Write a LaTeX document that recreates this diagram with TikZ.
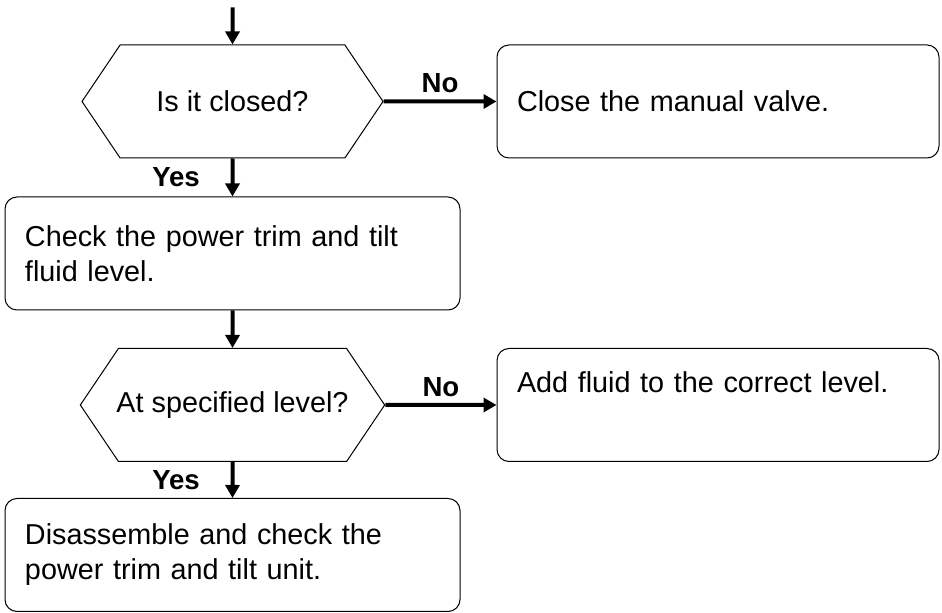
\documentclass[tikz,border=0pt]{standalone}
\usepackage{fontspec}
\setmainfont{Liberation Sans}
\usepackage{tikz}
\usetikzlibrary{positioning,shapes,shapes.symbols,arrows.meta}
\newcommand{\txtsize}{\fontsize{14.4pt}{17.5pt}\selectfont}
\tikzstyle{dec}=[draw, line width=0.5pt, shape=signal, signal to=east and west, signal pointer angle=112, minimum width=150.5pt, minimum height=56.5pt, inner sep=2pt, font=\txtsize]
\tikzstyle{act}=[draw, line width=0.5pt, rounded corners=6pt, minimum height=56.5pt, inner xsep=10pt, align=left, font=\txtsize]
\tikzstyle{yn}=[font=\fontsize{13.8pt}{16pt}\selectfont\bfseries]

\begin{document}
\begin{tikzpicture}[x=0.5pt,y=-0.5pt,node distance=75.5pt,auto,>={Triangle[length=6.5pt,width=7pt]}]
\useasboundingbox (0,0) rectangle (942,613);

  \node[dec] at (232.5,101.5) (closed) {Is it closed?};
  \coordinate[above of = closed, node distance = 47pt] (in);
  \draw[->,line width = 2pt] (in) -- (closed);

\node[act, text width = 201pt, right of = closed, node distance = 242.75pt] (valve) {Close the manual valve.};
\draw[->,line width = 2pt] (closed) -- node[yn, above] {No} (valve);

\node[act, text width = 207.5pt, below of = closed, node distance = 76pt] (check) {Check the power trim and tilt\\fluid level.};
\draw[->,line width = 2pt] (closed) -- node[yn, left, xshift = -12pt] {Yes} (check);

% longer question, let it run into the slanted sides
\node[dec, inner xsep = -1pt, below of = check, node distance = 75.75pt] (level) {At specified level?};
\draw[->,line width = 2pt] (check) -- (level);

% text sits high in this box
\node[act, text width = 201pt, text depth = 22.5pt, right of = level, node distance = 242.75pt] (fluid) {Add fluid to the correct level.};
\draw[->,line width = 2pt] (level) -- node[yn, above] {No} (fluid);

\node[act, text width = 207.5pt, below of = level, node distance = 75pt] (unit) {Disassemble and check the\\power trim and tilt unit.};
\draw[->,line width = 2pt] (level) -- node[yn, left, xshift = -12pt] {Yes} (unit);
\end{tikzpicture}
\end{document}
